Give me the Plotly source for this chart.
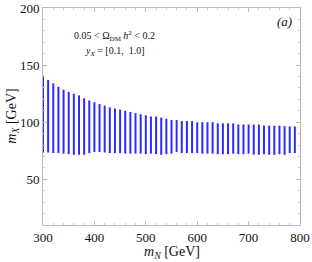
import plotly.graph_objects as go

m_N = list(range(300, 800, 10))
m_X_top = [141, 137, 134, 131, 128.5, 126.5, 125, 123.5, 121, 119,
           117.5, 116, 114.5, 113, 112, 111, 110, 109, 108, 107,
           106, 105, 105, 104, 103, 102, 102, 101, 101, 101,
           100, 100, 100, 100, 99, 99, 99, 99, 98, 98,
           98, 98, 98, 97, 97, 97, 97, 96.5, 96.3, 96.3]
m_X_bottom = [73.5, 73.5, 73, 73, 72.5, 72, 71.5, 71.5, 71.5, 73,
              74, 74, 73.5, 73, 73, 73, 72.5, 72.5, 72.5, 72.5,
              72, 72.5, 72, 71.5, 72, 72.5, 74, 73, 73, 73,
              73, 72.5, 72.5, 72.5, 72, 72, 72, 72.5, 72, 72,
              72.5, 71.5, 71.5, 72, 71.5, 71.5, 72, 71.5, 73, 73]

xs, ys = [], []
for x, lo, hi in zip(m_N, m_X_bottom, m_X_top):
    xs += [x, x, None]
    ys += [lo, hi, None]

fig = go.Figure()
fig.add_trace(go.Scatter(x=xs, y=ys, mode="lines",
                         line=dict(color="rgba(20,20,255,0.9)", width=2),
                         hoverinfo="skip", showlegend=False))

font = "Liberation Serif"
axis_common = dict(showgrid=False, zeroline=False, showline=True, mirror="ticks",
                   linecolor="#bbbbbb", linewidth=1, ticks="inside", ticklen=4,
                   tickcolor="#bbbbbb", automargin=False,
                   tickfont=dict(family=font, size=13, color="#111"))

fig.update_xaxes(range=[300, 800], tickvals=[300, 400, 500, 600, 700, 800],
                 minor=dict(ticks="inside", ticklen=2, tickcolor="#cccccc", dtick=20),
                 **axis_common)
fig.update_yaxes(range=[10, 200], tickvals=[50, 100, 150, 200],
                 minor=dict(ticks="inside", ticklen=2, tickcolor="#cccccc", dtick=10),
                 **axis_common)

ann = dict(xref="paper", yref="paper", showarrow=False, xanchor="center", yanchor="middle")
fig.add_annotation(x=0.5, y=-0.125, text="<i>m</i><sub><i>N</i></sub> [GeV]",
                   font=dict(family=font, size=14, color="#111"), **ann)
fig.add_annotation(x=-0.12, y=0.5, textangle=-90,
                   text="<i>m</i><sub><i>X</i></sub> [GeV]",
                   font=dict(family=font, size=14, color="#111"), **ann)
fig.add_annotation(x=0.28, y=0.87,
                   text="0.05 &lt; Ω<sub>DM</sub> <i>h</i><sup>2</sup> &lt; 0.2",
                   font=dict(family=font, size=10, color="#111"), **ann)
fig.add_annotation(x=0.28, y=0.80, text="<i>y</i><sub><i>X</i></sub> = [0.1,  1.0]",
                   font=dict(family=font, size=10, color="#111"), **ann)
fig.add_annotation(x=0.938, y=0.938, text="<i>(a)</i>",
                   font=dict(family=font, size=13, color="#111"), **ann)

fig.update_layout(width=312, height=262, margin=dict(l=43, r=12, t=8, b=37),
                  plot_bgcolor="white", paper_bgcolor="white")
fig.write_html("out.html", config={"displayModeBar": False},
               post_script="document.body.style.margin='0px';")
